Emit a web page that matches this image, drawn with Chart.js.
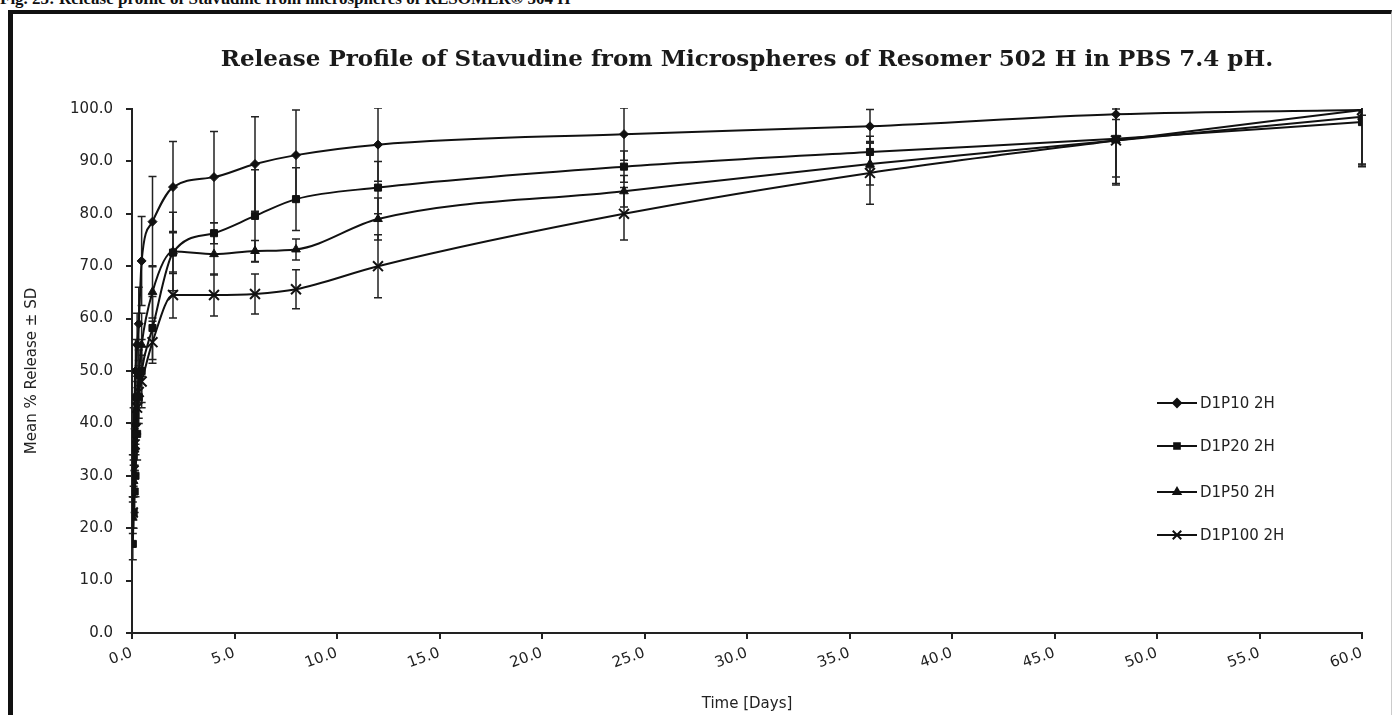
<!DOCTYPE html>
<html>
<head>
<meta charset="utf-8">
<script src="https://cdn.jsdelivr.net/npm/chart.js@4.4.1/dist/chart.umd.min.js"></script>
<style>
  html, body { margin: 0; padding: 0; background: #fff; overflow: hidden; }
  #caption {
    position: absolute; left: 0; top: -11px; line-height: 17px;
    font: bold 17px "Liberation Serif", serif; color: #111; white-space: nowrap;
  }
  #frame {
    position: absolute; left: 8px; top: 10px; width: 1378px; height: 720px;
    border-top: 4px solid #111; border-left: 5px solid #111; border-right: 1px solid #ccc;
  }
  #wrap { position: absolute; left: 0; top: 0; width: 1394px; height: 715px; }
</style>
</head>
<body>
<div id="caption">Fig. 25: Release profile of Stavudine from microspheres of RESOMER® 504 H</div>
<div id="frame"></div>
<div id="wrap"><canvas id="myChart" width="1394" height="715"></canvas></div>
<script>
// sampling times (days)
const days = [0.04, 0.08, 0.13, 0.17, 0.25, 0.33, 0.47, 1, 2, 4, 6, 8, 12, 24, 36, 48, 60];

// mean % release
const d1p10 = [30, 38, 45, 50, 55, 59, 71, 78.5, 85.1, 87.0, 89.5, 91.2, 93.2, 95.2, 96.7, 99.0, 99.8];
const d1p20 = [17, 23, 27, 30, 38, 45, 50, 58.2, 72.6, 76.3, 79.6, 82.8, 85.0, 89.0, 91.8, 94.3, 97.5];
const d1p50 = [22, 29, 35, 40, 45, 49, 55, 65.1, 72.8, 72.3, 72.9, 73.2, 79.0, 84.3, 89.5, 94.0, 98.5];
const d1p100 = [23, 31, 36, 39, 43, 46, 48, 55.5, 64.5, 64.5, 64.7, 65.6, 70.0, 80.0, 87.8, 94.0, 99.8];

// standard deviations
const sd10 = [4, 5, 5, 6, 6, 7, 8.5, 8.6, 8.7, 8.7, 9, 8.6, 7, 5, 3.2, 1, 1];
const sd20 = [3, 3, 4, 4, 5, 5, 6, 6, 4, 2, 8.8, 6, 5, 3, 3, 8.5, 8.5];
const sd50 = [3, 3, 4, 4, 5, 5, 6, 5, 7.5, 4, 2, 2, 4, 3, 4, 7, 9];
const sd100 = [3, 3, 4, 4, 5, 5, 5, 4, 4.4, 4, 3.8, 3.7, 6, 5, 6, 8.5, 10.5];

const seriesNames = ['D1P10 2H', 'D1P20 2H', 'D1P50 2H', 'D1P100 2H'];
const xTicks = [0, 5, 10, 15, 20, 25, 30, 35, 40, 45, 50, 55, 60];

const axisFont = '"DejaVu Sans", sans-serif';

const toPoints = (vals) => vals.map((v, i) => ({ x: days[i], y: v }));

const makeSet = (label, vals, sd, style, radius) => ({
    label: label,
    data: toPoints(vals),
    sd: sd,
    borderColor: '#111',
    backgroundColor: '#111',
    borderWidth: 2,
    pointStyle: style,
    pointRadius: radius,
    pointBorderWidth: style === 'crossRot' ? 2 : 1,
    pointBorderColor: '#111',
    pointBackgroundColor: '#111',
    cubicInterpolationMode: 'monotone',
    tension: 0.4,
});

// vertical error bars with caps, clipped to the plot like the original
const errorBars = {
    id: 'errorBars',
    beforeDatasetsDraw(chart) {
        const { ctx, chartArea: area, scales: { x, y } } = chart;
        ctx.save();
        ctx.beginPath();
        ctx.rect(area.left - 6, area.top - 1, area.right - area.left + 12, area.bottom - area.top + 2);
        ctx.clip();
        ctx.strokeStyle = '#222';
        ctx.lineWidth = 1.5;
        chart.data.datasets.forEach(ds => {
            ds.data.forEach((p, i) => {
                const s = ds.sd[i];
                const px = x.getPixelForValue(p.x);
                const top = y.getPixelForValue(p.y + s);
                const bot = y.getPixelForValue(p.y - s);
                ctx.beginPath();
                ctx.moveTo(px, top);
                ctx.lineTo(px, bot);
                ctx.moveTo(px - 4, top);
                ctx.lineTo(px + 4, top);
                ctx.moveTo(px - 4, bot);
                ctx.lineTo(px + 4, bot);
                ctx.stroke();
            });
        });
        ctx.restore();
    }
};

// legend inside the plot, on the right
const insideLegend = {
    id: 'insideLegend',
    afterDraw(chart) {
        const { ctx } = chart;
        const rows = [403, 446, 492, 535];
        ctx.save();
        chart.data.datasets.forEach((ds, i) => {
            const yy = rows[i];
            ctx.strokeStyle = '#111';
            ctx.lineWidth = 2;
            ctx.beginPath();
            ctx.moveTo(1157, yy);
            ctx.lineTo(1197, yy);
            ctx.stroke();
            if (Chart.helpers && Chart.helpers.drawPoint) {
                ctx.fillStyle = '#111';
                Chart.helpers.drawPoint(ctx, {
                    pointStyle: ds.pointStyle,
                    radius: ds.pointStyle === 'crossRot' ? 6 : 4,
                    borderWidth: ds.pointBorderWidth,
                    rotation: 0,
                }, 1177, yy);
                ctx.fill();
            }
            ctx.fillStyle = '#222';
            ctx.font = '15px ' + axisFont;
            ctx.textBaseline = 'middle';
            ctx.fillText(ds.label, 1200, yy + 1);
        });
        ctx.restore();
    }
};

const config = {
    type: 'line',
    data: {
        datasets: [
            makeSet(seriesNames[0], d1p10, sd10, 'rectRot', 4.5),
            makeSet(seriesNames[1], d1p20, sd20, 'rect', 5),
            makeSet(seriesNames[2], d1p50, sd50, 'triangle', 5),
            makeSet(seriesNames[3], d1p100, sd100, 'crossRot', 7),
        ],
    },
    options: {
        responsive: false,
        animation: false,
        layout: { padding: { left: 20, right: 32, top: 0, bottom: 0 } },
        plugins: {
            legend: { display: false },
            tooltip: { enabled: false },
            title: {
                display: true,
                fullSize: false,
                text: 'Release Profile of Stavudine from Microspheres of Resomer 502 H in PBS 7.4 pH.',
                font: { family: '"DejaVu Serif", serif', size: 23, weight: 'bold', lineHeight: 1.2 },
                color: '#1a1a1a',
                padding: { top: 46.2, bottom: 35.2 },
            },
        },
        scales: {
            x: {
                type: 'linear',
                min: 0,
                max: 60,
                afterBuildTicks: (axis) => { axis.ticks = xTicks.map(v => ({ value: v })); },
                afterFit: (axis) => { axis.height = 82; },
                ticks: {
                    minRotation: 20,
                    maxRotation: 20,
                    padding: 5,
                    color: '#222',
                    font: { family: axisFont, size: 15 },
                    callback: (v) => v.toFixed(1),
                },
                grid: { drawOnChartArea: false, drawTicks: true, tickLength: 6, color: '#222', lineWidth: 2 },
                border: { display: true, color: '#222', width: 2 },
                title: {
                    display: true,
                    text: 'Time [Days]',
                    color: '#222',
                    font: { family: axisFont, size: 15 },
                    padding: { top: 0, bottom: 2 },
                },
            },
            y: {
                min: 0,
                max: 100,
                afterFit: (axis) => { axis.width = 112; },
                ticks: {
                    stepSize: 10,
                    padding: 13,
                    color: '#222',
                    font: { family: axisFont, size: 15 },
                    callback: (v) => v.toFixed(1),
                },
                grid: { drawOnChartArea: false, drawTicks: true, tickLength: 6, color: '#222', lineWidth: 2 },
                border: { display: true, color: '#222', width: 2 },
                title: {
                    display: true,
                    text: 'Mean % Release ± SD',
                    color: '#222',
                    font: { family: axisFont, size: 15 },
                    padding: { top: 3, bottom: 0 },
                },
            },
        },
    },
    plugins: [errorBars, insideLegend],
};

const ctx = document.getElementById('myChart').getContext('2d');
const myChart = new Chart(ctx, config);
</script>
</body>
</html>
